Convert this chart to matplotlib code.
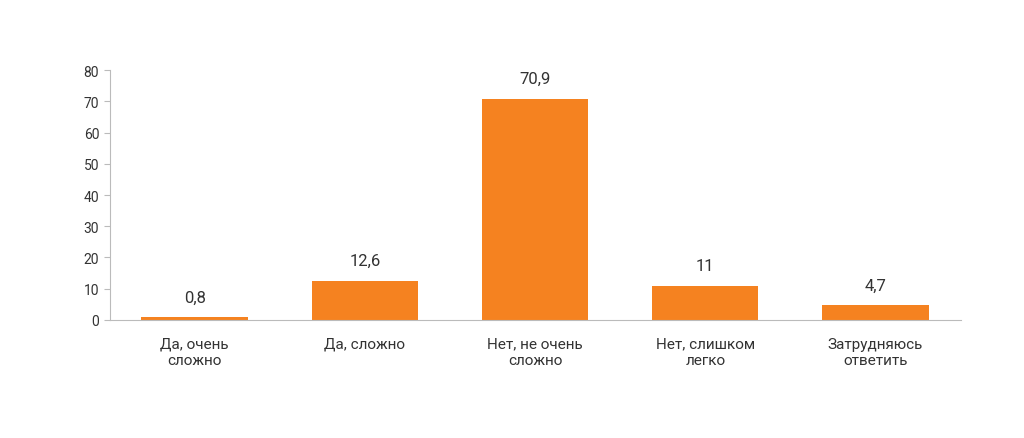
import matplotlib
matplotlib.use("Agg")
import matplotlib.pyplot as plt

categories = ["Да, очень\nсложно", "Да, сложно", "Нет, не очень\nсложно", "Нет, слишком\nлегко", "Затрудняюсь\nответить"]
values = [0.8, 12.6, 70.9, 11, 4.7]
labels = ["0,8", "12,6", "70,9", "11", "4,7"]

plt.rcParams['font.family'] = ['Roboto', 'DejaVu Sans']
fig = plt.figure(figsize=(10.24, 4.39), dpi=100)
ax = fig.add_axes([0.107, 0.269, 0.831, 0.569])
x = range(len(categories))
ax.bar(x, values, width=0.625, color="#F58220")
for xi, v, l in zip(x, values, labels):
    ax.text(xi, v + 4, l, ha="center", va="bottom", fontsize=12, color="#333333")
ax.set_xlim(-0.5, len(categories) - 0.5)
ax.set_ylim(0, 80)
ax.set_yticks(range(0, 81, 10))
ax.set_xticks(list(x))
ax.set_xticklabels(categories, fontsize=11, color="#333333")
ax.tick_params(axis='x', length=0, pad=12)
ax.tick_params(axis='y', labelsize=10, colors="#333333", length=4, color="#bbbbbb")
for s in ["top", "right"]:
    ax.spines[s].set_visible(False)
for s in ["left", "bottom"]:
    ax.spines[s].set_color("#bbbbbb")
fig.savefig("out.png", dpi=100)
